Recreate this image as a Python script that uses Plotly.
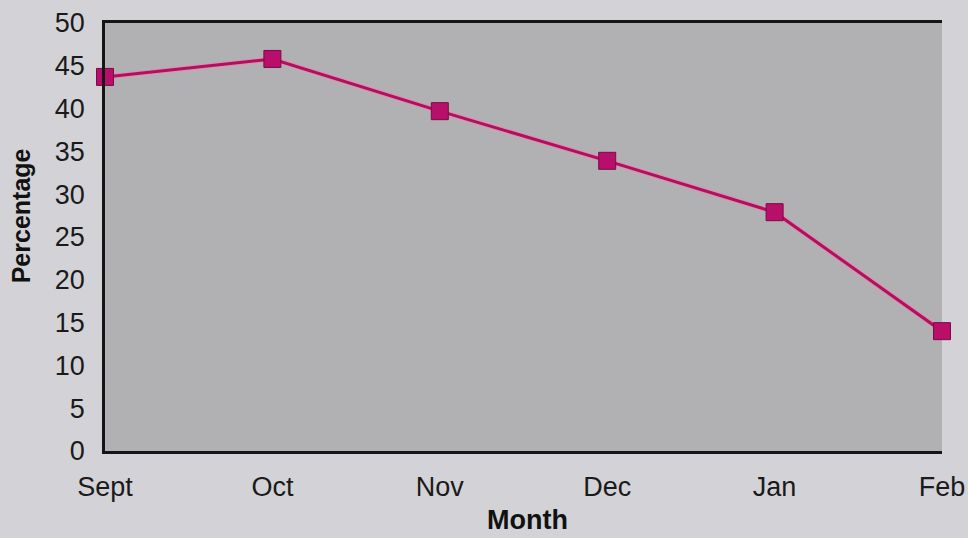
import plotly.graph_objects as go

months = ["Sept", "Oct", "Nov", "Dec", "Jan", "Feb"]
percentage = [43.7, 45.8, 39.7, 33.9, 27.9, 14.0]
y_ticks = [0, 5, 10, 15, 20, 25, 30, 35, 40, 45, 50]

fig = go.Figure()
# light edge under the line
fig.add_trace(go.Scatter(
    x=months, y=percentage, mode="lines",
    line=dict(color="#e58ab2", width=5), hoverinfo="skip", showlegend=False,
))
fig.add_trace(go.Scatter(
    x=months, y=percentage, mode="lines+markers",
    line=dict(color="#ad135c", width=3),
    marker=dict(symbol="square", size=17, color="#b8106a",
                line=dict(color="#7a0a48", width=1)),
    showlegend=False, cliponaxis=False,
))

font = "Liberation Sans, Arial, Helvetica, sans-serif"
fig.update_layout(
    width=968, height=538,
    margin=dict(l=105, r=26, t=23, b=87, autoexpand=False),
    paper_bgcolor="#d3d3d7",
    plot_bgcolor="#b1b1b3",
    font=dict(family=font, size=28, color="#1a1a1a"),
    xaxis=dict(
        type="category", range=[0, 5], showgrid=False, zeroline=False,
        showline=True, linecolor="#151515", linewidth=2.5, mirror=True,
        ticks="", ticklabelstandoff=10, tickfont=dict(size=27),
        automargin=False,
    ),
    yaxis=dict(
        range=[0, 50], tickvals=y_ticks, showgrid=False, zeroline=False,
        showline=True, linecolor="#151515", linewidth=2.5,
        ticks="", ticklabelstandoff=12, tickfont=dict(size=27),
        automargin=False,
    ),
    annotations=[
        dict(text="<b>Month</b>", x=0.505, y=-0.161, xref="paper", yref="paper",
             showarrow=False, font=dict(size=27, family=font, color="#111"),
             xanchor="center", yanchor="middle"),
        dict(text="<b>Percentage</b>", x=-0.1, y=0.549, xref="paper", yref="paper",
             showarrow=False, textangle=-90, font=dict(size=25, family=font, color="#111"),
             xanchor="center", yanchor="middle"),
    ],
)

fig.write_html("out.html")
